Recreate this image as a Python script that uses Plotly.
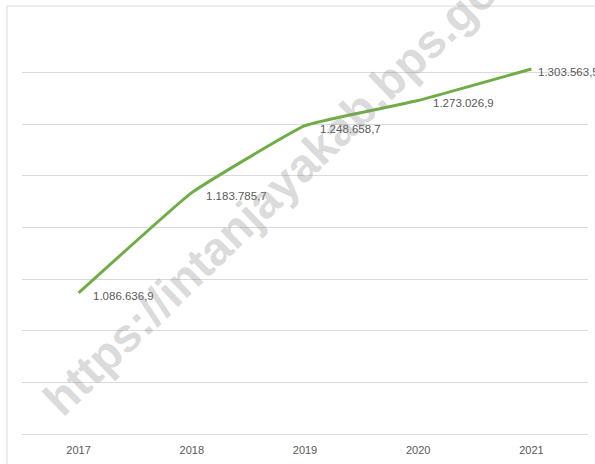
import plotly.graph_objects as go

years = ["2017", "2018", "2019", "2020", "2021"]
values = [1086636.9, 1183785.7, 1248658.7, 1273026.9, 1303563.5]
labels = ["1.086.636,9", "1.183.785,7", "1.248.658,7", "1.273.026,9", "1.303.563,5"]
watermark = "https://intanjayakab.bps.go.id"

W, H = 595, 464
ml, mr, mt, mb = 22, 7, 21, 30
pw, ph = W - ml - mr, H - mt - mb

fig = go.Figure()
fig.add_trace(go.Scatter(
    x=list(range(len(years))), y=values, mode="lines",
    line=dict(color="#70AD47", width=3, shape="spline", smoothing=0.3),
    hoverinfo="skip", showlegend=False,
))

label_shift = [12, 12, 13, 13, 5]
for i, (v, t) in enumerate(zip(values, labels)):
    fig.add_annotation(x=i, y=v, text=t, showarrow=False, xanchor="left", yanchor="middle",
                       xshift=label_shift[i], yshift=-3,
                       font=dict(family="Liberation Sans, Arial, sans-serif", size=11.5, color="#595959"))

# watermark
fig.add_annotation(xref="paper", yref="paper", x=(289 - ml) / pw, y=(H - mb - 176) / ph,
                   text="<b>" + watermark + "</b>", showarrow=False, textangle=-44,
                   xanchor="center", yanchor="middle",
                   font=dict(family="Liberation Sans, Arial, sans-serif", size=47, color="rgba(140,140,140,0.32)"))

# outer chart border
fig.add_shape(type="rect", xref="paper", yref="paper",
              x0=(7 - ml) / pw, x1=1.2, y0=-0.3, y1=1 + (mt - 6) / ph,
              line=dict(color="#D9D9D9", width=1), fillcolor="rgba(0,0,0,0)", layer="below")

fig.update_layout(
    width=W, height=H, margin=dict(l=ml, r=mr, t=mt, b=mb),
    paper_bgcolor="white", plot_bgcolor="white",
    xaxis=dict(range=[-0.5, len(years) - 0.5], tickmode="array",
               tickvals=list(range(len(years))), ticktext=years,
               showgrid=False, zeroline=False, showline=True, linecolor="#D9D9D9", linewidth=1,
               ticks="", ticklabelstandoff=6,
               tickfont=dict(family="Liberation Sans, Arial, sans-serif", size=11, color="#595959")),
    yaxis=dict(range=[950000, 1350000], dtick=50000, tick0=950000, showticklabels=False,
               showgrid=True, gridcolor="#D9D9D9", gridwidth=1, zeroline=False, ticks=""),
)

fig.write_html("out.html", config={"displayModeBar": False},
               post_script="document.body.style.margin='0';document.body.style.overflow='hidden';")
